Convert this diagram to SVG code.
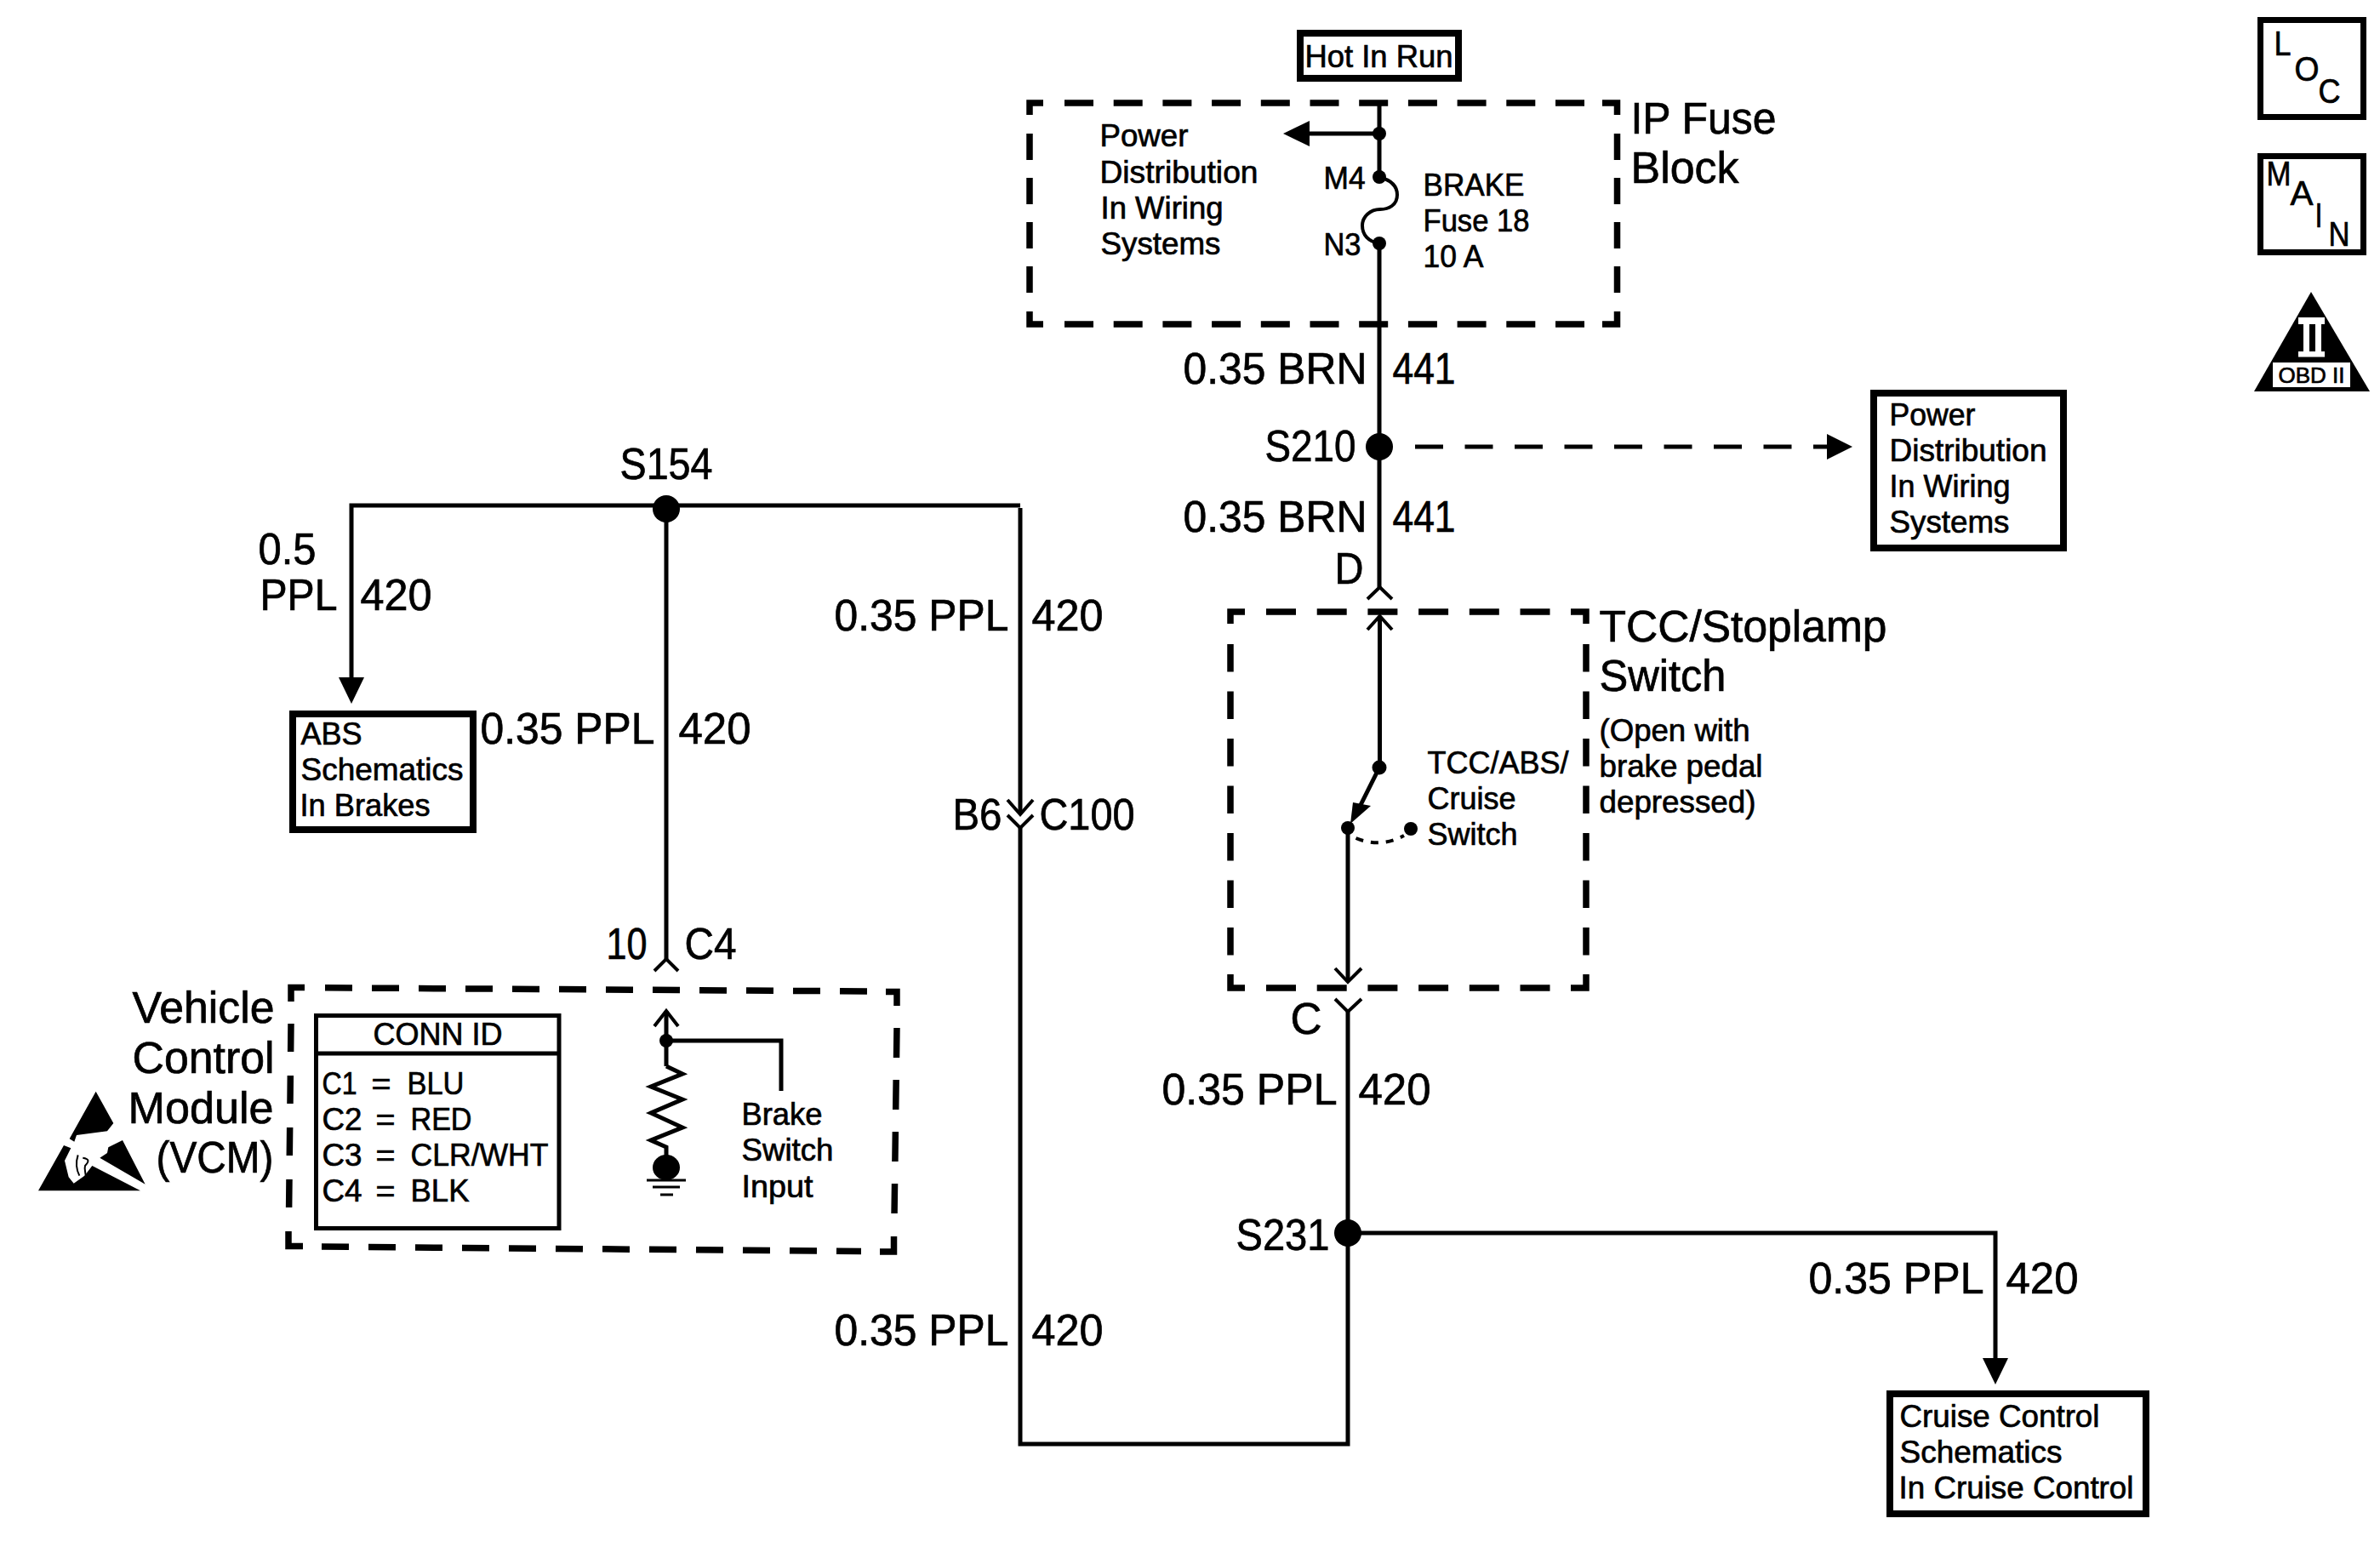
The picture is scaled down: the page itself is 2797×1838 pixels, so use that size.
<svg xmlns="http://www.w3.org/2000/svg" width="2797" height="1838" viewBox="0 0 2797 1838">
<style>
text{font-family:"Liberation Sans",Arial,sans-serif;fill:#000;stroke:#000;stroke-width:.7;transform:translateX(-1.5px)}
.s{font-size:37px}
.m{font-size:40px}
.l{font-size:51px}
.w{fill:none;stroke:#000;stroke-width:5}
.thin{fill:none;stroke:#000;stroke-width:4}
.box{fill:#fff;stroke:#000;stroke-width:8}
.dash{fill:none;stroke:#000;stroke-width:7.500}
.f{fill:#000}
</style>
<rect width="2797" height="1838" fill="#fff"/>

<g id="connectors">
<path class="w" d="M1621,118V208M1621,286V690"/>
<path class="w" d="M1621,157H1535"/>
<polygon class="f" points="1508,157 1539,142 1539,172"/>
<path class="thin" d="M1621,208C1636,212 1642,220 1642,229C1642,241 1632,246 1622,246C1610,246 1601,255 1601,265C1601,276 1608,284 1621,286"/>
<path class="w" d="M1663,525H2164" stroke-dasharray="33 25.5"/>
<polygon class="f" points="2177,525 2147,510 2147,540"/>
<path class="thin" d="M1607,704L1621.5,690L1636,704"/>
<path class="w" d="M1621.5,724V902"/>
<path class="thin" d="M1607,740L1621.5,724L1636,740"/>
<path class="w" d="M1621,902L1597,950"/>
<polygon class="f" points="1590,943 1611,947 1587,968"/>
<path class="thin" d="M1593.5,985Q1622,997 1650,982" stroke-dasharray="9 9"/>
<path class="w" d="M1584,973V1154"/>
<path class="thin" d="M1569,1138L1584,1154L1600,1138M1569,1174L1584,1189L1600,1174"/>
<path class="w" d="M1584,1189V1697H1199V973"/>
<path class="thin" d="M1184,940L1199,957L1214,940M1184,958L1199,973L1214,958"/>
<path class="w" d="M1199,957V597"/>
<path class="w" d="M413,796V594H1199"/>
<polygon class="f" points="398,796 428,796 413,827"/>
<path class="w" d="M783,598V1127"/>
<path class="thin" d="M769,1141L783,1127L797,1141"/>
<path class="w" d="M1584,1449H2345V1596"/>
<polygon class="f" points="2330,1596 2360,1596 2345,1627"/>
<circle class="f" cx="783" cy="598" r="16"/>
<circle class="f" cx="1621" cy="525" r="16"/>
<circle class="f" cx="1584" cy="1449" r="16"/>
</g>

<g id="hot-in-run">
<rect class="box" x="1528" y="39" width="186" height="53"/>
<text class="s" x="1535" y="79" textLength="174" lengthAdjust="spacingAndGlyphs">Hot In Run</text>
</g>

<g id="ip-fuse-block">
<path class="dash" d="M1210,135V121H1226M1883,121H1900.500V135M1210,366V381H1226M1883,381H1900.500V366"/>
<path class="dash" d="M1251,121H1862M1251,381H1862" stroke-dasharray="34 23.7"/>
<path class="dash" d="M1210,157V345M1900.500,157V345" stroke-dasharray="31 21"/>
<circle class="f" cx="1621" cy="157" r="8"/>
<circle class="f" cx="1621" cy="208" r="8"/>
<circle class="f" cx="1621" cy="286" r="8"/>
<text class="s" x="1294" y="172" textLength="104" lengthAdjust="spacingAndGlyphs">Power</text>
<text class="s" x="1294" y="215" textLength="186" lengthAdjust="spacingAndGlyphs">Distribution</text>
<text class="s" x="1295" y="257" textLength="144" lengthAdjust="spacingAndGlyphs">In Wiring</text>
<text class="s" x="1295" y="299" textLength="141" lengthAdjust="spacingAndGlyphs">Systems</text>
<text class="s" x="1557" y="222" textLength="49" lengthAdjust="spacingAndGlyphs">M4</text>
<text class="s" x="1557" y="300" textLength="44" lengthAdjust="spacingAndGlyphs">N3</text>
<text class="s" x="1674" y="230" textLength="119" lengthAdjust="spacingAndGlyphs">BRAKE</text>
<text class="s" x="1674" y="272" textLength="125" lengthAdjust="spacingAndGlyphs">Fuse 18</text>
<text class="s" x="1674" y="314" textLength="71" lengthAdjust="spacingAndGlyphs">10 A</text>
<text class="l" x="1918" y="157" textLength="171" lengthAdjust="spacingAndGlyphs">IP Fuse</text>
<text class="l" x="1918" y="215" textLength="127" lengthAdjust="spacingAndGlyphs">Block</text>
</g>

<g id="wire-labels">
<text class="l" x="1392" y="451" textLength="216" lengthAdjust="spacingAndGlyphs">0.35 BRN</text>
<text class="l" x="1638" y="451" textLength="74" lengthAdjust="spacingAndGlyphs">441</text>
<text class="l" x="1392" y="625" textLength="216" lengthAdjust="spacingAndGlyphs">0.35 BRN</text>
<text class="l" x="1638" y="625" textLength="74" lengthAdjust="spacingAndGlyphs">441</text>
<text class="l" x="305" y="663" textLength="68" lengthAdjust="spacingAndGlyphs">0.5</text>
<text class="l" x="307" y="717" textLength="91" lengthAdjust="spacingAndGlyphs">PPL</text>
<text class="l" x="425" y="717" textLength="84" lengthAdjust="spacingAndGlyphs">420</text>
<text class="l" x="566" y="874" textLength="205" lengthAdjust="spacingAndGlyphs">0.35 PPL</text>
<text class="l" x="799" y="874" textLength="85" lengthAdjust="spacingAndGlyphs">420</text>
<text class="l" x="982" y="741" textLength="205" lengthAdjust="spacingAndGlyphs">0.35 PPL</text>
<text class="l" x="1214" y="741" textLength="84" lengthAdjust="spacingAndGlyphs">420</text>
<text class="l" x="982" y="1581" textLength="205" lengthAdjust="spacingAndGlyphs">0.35 PPL</text>
<text class="l" x="1214" y="1581" textLength="84" lengthAdjust="spacingAndGlyphs">420</text>
<text class="l" x="1367" y="1298" textLength="206" lengthAdjust="spacingAndGlyphs">0.35 PPL</text>
<text class="l" x="1598" y="1298" textLength="85" lengthAdjust="spacingAndGlyphs">420</text>
<text class="l" x="2127" y="1520" textLength="206" lengthAdjust="spacingAndGlyphs">0.35 PPL</text>
<text class="l" x="2359" y="1520" textLength="85" lengthAdjust="spacingAndGlyphs">420</text>
<text class="l" x="1488" y="542" textLength="107" lengthAdjust="spacingAndGlyphs">S210</text>
<text class="l" x="730" y="563" textLength="109" lengthAdjust="spacingAndGlyphs">S154</text>
<text class="l" x="1454" y="1469" textLength="110" lengthAdjust="spacingAndGlyphs">S231</text>
<text class="l" x="1121" y="975" textLength="58" lengthAdjust="spacingAndGlyphs">B6</text>
<text class="l" x="1223" y="975" textLength="112" lengthAdjust="spacingAndGlyphs">C100</text>
<text class="l" x="714" y="1127" textLength="48" lengthAdjust="spacingAndGlyphs">10</text>
<text class="l" x="806" y="1127" textLength="61" lengthAdjust="spacingAndGlyphs">C4</text>
<text class="l" x="1570" y="686" textLength="34" lengthAdjust="spacingAndGlyphs">D</text>
<text class="l" x="1518" y="1215" textLength="37" lengthAdjust="spacingAndGlyphs">C</text>
</g>

<g id="power-distribution-ref">
<rect class="box" x="2202" y="462" width="223" height="182"/>
<text class="s" x="2222" y="500" textLength="101" lengthAdjust="spacingAndGlyphs">Power</text>
<text class="s" x="2222" y="542" textLength="185" lengthAdjust="spacingAndGlyphs">Distribution</text>
<text class="s" x="2222" y="584" textLength="142" lengthAdjust="spacingAndGlyphs">In Wiring</text>
<text class="s" x="2222" y="626" textLength="141" lengthAdjust="spacingAndGlyphs">Systems</text>
</g>

<g id="abs-ref">
<rect class="box" x="344" y="839" width="212" height="136"/>
<text class="s" x="355" y="875" textLength="72" lengthAdjust="spacingAndGlyphs">ABS</text>
<text class="s" x="355" y="917" textLength="191" lengthAdjust="spacingAndGlyphs">Schematics</text>
<text class="s" x="354" y="959" textLength="153" lengthAdjust="spacingAndGlyphs">In Brakes</text>
</g>

<g id="cruise-ref">
<rect class="box" x="2221" y="1638" width="301" height="141"/>
<text class="s" x="2234" y="1677" textLength="235" lengthAdjust="spacingAndGlyphs">Cruise Control</text>
<text class="s" x="2234" y="1719" textLength="191" lengthAdjust="spacingAndGlyphs">Schematics</text>
<text class="s" x="2233" y="1761" textLength="276" lengthAdjust="spacingAndGlyphs">In Cruise Control</text>
</g>

<g id="tcc-stoplamp-switch">
<path class="dash" d="M1446,733V719H1463M1846,719H1864V733M1446,1145V1161H1463M1846,1161H1864V1145"/>
<path class="dash" d="M1488,719H1822M1488,1161H1822" stroke-dasharray="35 24.7"/>
<path class="dash" d="M1446,757V1125M1864,757V1125" stroke-dasharray="32.500 23"/>
<circle class="f" cx="1621" cy="902" r="8.500"/>
<circle class="f" cx="1584" cy="973" r="8"/>
<circle class="f" cx="1658" cy="974" r="8"/>
<text class="s" x="1679" y="909" textLength="166" lengthAdjust="spacingAndGlyphs">TCC/ABS/</text>
<text class="s" x="1679" y="951" textLength="104" lengthAdjust="spacingAndGlyphs">Cruise</text>
<text class="s" x="1679" y="993" textLength="106" lengthAdjust="spacingAndGlyphs">Switch</text>
<text class="l" x="1881" y="754" textLength="338" lengthAdjust="spacingAndGlyphs">TCC/Stoplamp</text>
<text class="l" x="1881" y="812" textLength="149" lengthAdjust="spacingAndGlyphs">Switch</text>
<text class="s" x="1881" y="871" textLength="177" lengthAdjust="spacingAndGlyphs">(Open with</text>
<text class="s" x="1881" y="913" textLength="192" lengthAdjust="spacingAndGlyphs">brake pedal</text>
<text class="s" x="1881" y="955" textLength="184" lengthAdjust="spacingAndGlyphs">depressed)</text>
</g>

<g id="vcm">
<path class="dash" d="M342,1177V1160.500H358M1041,1165.500H1054V1182M339,1447V1464.500H356M1034,1471H1050.500V1453"/>
<path class="dash" d="M382,1160.800L1022,1165" stroke-dasharray="32 23"/>
<path class="dash" d="M378,1465L1012,1470.500" stroke-dasharray="32 23"/>
<path class="dash" d="M342,1203L339.500,1430" stroke-dasharray="33 28"/>
<path class="dash" d="M1054,1208L1051,1430" stroke-dasharray="35 26"/>
<text class="l" x="157" y="1202" textLength="167" lengthAdjust="spacingAndGlyphs">Vehicle</text>
<text class="l" x="157" y="1261" textLength="167" lengthAdjust="spacingAndGlyphs">Control</text>
<text class="l" x="152" y="1320" textLength="171" lengthAdjust="spacingAndGlyphs">Module</text>
<text class="l" x="185" y="1378" textLength="138" lengthAdjust="spacingAndGlyphs">(VCM)</text>
<g fill="none" stroke="#000">
<rect x="371.500" y="1193.500" width="285.500" height="250" stroke-width="5"/>
<path d="M372,1238H657" stroke-width="5"/>
</g>
<text class="s" x="440" y="1228" textLength="152" lengthAdjust="spacingAndGlyphs">CONN ID</text>
<text class="s" x="380" y="1286" textLength="41" lengthAdjust="spacingAndGlyphs">C1</text>
<text class="s" x="438" y="1286" textLength="23" lengthAdjust="spacingAndGlyphs">=</text>
<text class="s" x="480" y="1286" textLength="67" lengthAdjust="spacingAndGlyphs">BLU</text>
<text class="s" x="380" y="1328" textLength="47" lengthAdjust="spacingAndGlyphs">C2</text>
<text class="s" x="443" y="1328" textLength="23" lengthAdjust="spacingAndGlyphs">=</text>
<text class="s" x="484" y="1328" textLength="72" lengthAdjust="spacingAndGlyphs">RED</text>
<text class="s" x="380" y="1370" textLength="47" lengthAdjust="spacingAndGlyphs">C3</text>
<text class="s" x="443" y="1370" textLength="23" lengthAdjust="spacingAndGlyphs">=</text>
<text class="s" x="484" y="1370" textLength="162" lengthAdjust="spacingAndGlyphs">CLR/WHT</text>
<text class="s" x="380" y="1412" textLength="47" lengthAdjust="spacingAndGlyphs">C4</text>
<text class="s" x="443" y="1412" textLength="23" lengthAdjust="spacingAndGlyphs">=</text>
<text class="s" x="484" y="1412" textLength="69" lengthAdjust="spacingAndGlyphs">BLK</text>
<path class="thin" d="M769,1206L783,1188L797,1206"/>
<path class="w" d="M783,1188V1253"/>
<path class="w" d="M783,1223H918V1282"/>
<circle class="f" cx="783" cy="1223" r="8"/>
<path class="w" d="M783,1253L802,1262L765,1277L802,1292L765,1308L802,1325L765,1340L783,1348V1372"/>
<ellipse class="f" cx="783" cy="1372" rx="16" ry="15"/>
<path fill="none" stroke="#000" stroke-width="3" d="M760,1387H806M767,1395H799M776,1404H791"/>
<text class="s" x="873" y="1322" textLength="95" lengthAdjust="spacingAndGlyphs">Brake</text>
<text class="s" x="873" y="1364" textLength="108" lengthAdjust="spacingAndGlyphs">Switch</text>
<text class="s" x="873" y="1407" textLength="84" lengthAdjust="spacingAndGlyphs">Input</text>
<g transform="translate(40,1270) scale(.3333)">
<polygon class="f" points="218,38 280,150 258,178 150,192 142,215 125,205"/>
<polygon class="f" points="15,388 105,228 130,238 108,282 122,340 140,362 178,335 205,300 375,388"/>
<polygon class="f" points="312,210 392,365 232,272 258,255 262,235"/>
<path fill="none" stroke="#000" stroke-width="6" d="M155,262C146,290 150,315 160,335M172,272C195,275 195,285 180,300C175,315 185,330 182,342"/>
</g>
</g>

<g id="loc-icon">
<rect fill="#fff" stroke="#000" stroke-width="7" x="2656.500" y="23.500" width="121" height="114"/>
<text class="m" x="2674" y="65" textLength="20" lengthAdjust="spacingAndGlyphs">L</text>
<text class="m" x="2698" y="95" textLength="29" lengthAdjust="spacingAndGlyphs">O</text>
<text class="m" x="2726" y="121" textLength="26" lengthAdjust="spacingAndGlyphs">C</text>
</g>
<g id="main-icon">
<rect fill="#fff" stroke="#000" stroke-width="7" x="2656.500" y="183.500" width="121" height="113"/>
<text class="m" x="2665" y="218" textLength="29" lengthAdjust="spacingAndGlyphs">M</text>
<text class="m" x="2693" y="241" textLength="27" lengthAdjust="spacingAndGlyphs">A</text>
<text class="m" x="2722" y="267" textLength="9" lengthAdjust="spacingAndGlyphs">I</text>
<text class="m" x="2738" y="289" textLength="25" lengthAdjust="spacingAndGlyphs">N</text>
</g>
<g id="obd-icon">
<polygon class="f" points="2716,343 2785,460 2649,460"/>
<g fill="#fff">
<rect x="2701" y="373" width="31" height="8"/>
<rect x="2701" y="413" width="31" height="6.500"/>
<rect x="2707" y="381" width="7" height="32"/>
<rect x="2721" y="381" width="7" height="32"/>
<rect x="2671" y="426" width="91" height="29"/>
</g>
<text x="2679" y="450" font-size="26" textLength="78" lengthAdjust="spacingAndGlyphs">OBD II</text>
</g>
</svg>
